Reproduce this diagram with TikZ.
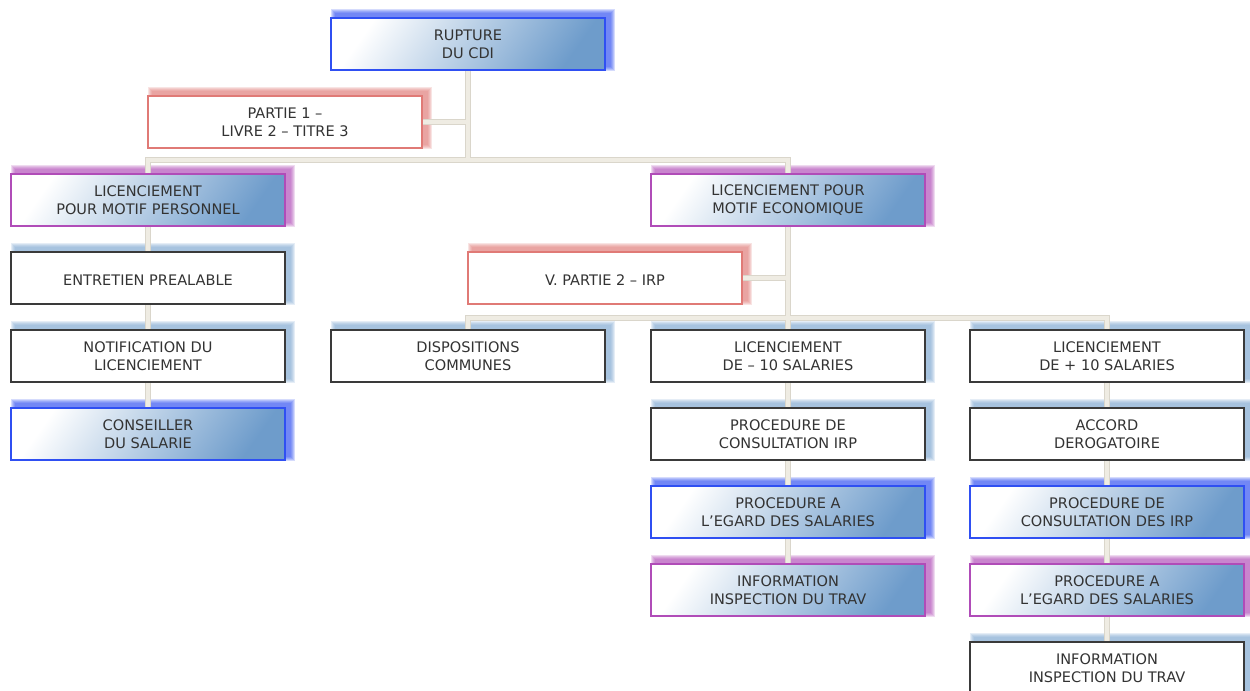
\documentclass[tikz,border=0pt]{standalone}
\usepackage{fontspec}
\setmainfont{DejaVu Sans}
\usetikzlibrary{calc,backgrounds}
\definecolor{cbleu}{HTML}{2F4FF2}
\definecolor{crouge}{HTML}{E07A76}
\definecolor{cviolet}{HTML}{B04CB8}
\definecolor{cgris}{HTML}{3A3A3A}
\definecolor{chalo}{HTML}{7FA7D2}
\definecolor{cdegrade}{HTML}{6E9CCB}
\definecolor{clien}{HTML}{EFECE3}
\definecolor{clienb}{HTML}{DAD6CB}
\definecolor{ctexte}{HTML}{333333}
\tikzset{
  boite/.style={draw=cgris,fill=white,line width=1.1pt,align=center,
                minimum width=205.5pt,minimum height=39pt,inner sep=2pt,
                execute at begin node={\rule{0pt}{11pt}},
                text=ctexte,font=\fontsize{10.9pt}{13.5pt}\selectfont},
  degrade/.style={left color=white,right color=cdegrade,shading angle=55},
  boiteb/.style={boite,draw=cbleu,degrade},
  boitev/.style={boite,draw=cviolet,degrade},
  boiter/.style={boite,draw=crouge},
  lien/.style={draw=clien,line width=2.4pt,preaction={draw=clienb,line width=3.8pt}},
}
\newcommand{\halo}[2]{%
  \foreach \r in {0,...,4}{%
    \fill[#2,opacity=0.2] ($(#1.south west)+(5-\r,-4+\r)$) rectangle ($(#1.north east)+(5+\r,-4-\r)$);}}
\begin{document}
\begin{tikzpicture}[x=0.75pt,y=-0.75pt]
\useasboundingbox (0,0) rectangle (1250,691);

\node[boiteb] (rup) at (468,44) {RUPTURE\\DU CDI};
\node[boiter] (p1) at (285,122) {PARTIE 1 –\\LIVRE 2 – TITRE 3};

\node[boitev] (lper) at (148,200) {LICENCIEMENT\\POUR MOTIF PERSONNEL};
\node[boite] (entr) at (148,278) {ENTRETIEN PREALABLE};
\node[boite] (notif) at (148,356) {NOTIFICATION DU\\LICENCIEMENT};
\node[boiteb] (cons) at (148,434) {CONSEILLER\\DU SALARIE};

\node[boitev] (leco) at (788,200) {LICENCIEMENT POUR\\MOTIF ECONOMIQUE};
\node[boiter] (p2) at (605,278) {V. PARTIE 2 – IRP};
\node[boite] (disp) at (468,356) {DISPOSITIONS\\COMMUNES};
\node[boite] (lmoins) at (788,356) {LICENCIEMENT\\DE – 10 SALARIES};
\node[boite] (lplus) at (1107,356) {LICENCIEMENT\\DE + 10 SALARIES};

\node[boite] (cirp) at (788,434) {PROCEDURE DE\\CONSULTATION IRP};
\node[boiteb] (sal1) at (788,512) {PROCEDURE A\\L’EGARD DES SALARIES};
\node[boitev] (insp1) at (788,590) {INFORMATION\\INSPECTION DU TRAV};

\node[boite] (acc) at (1107,434) {ACCORD\\DEROGATOIRE};
\node[boiteb] (cdirp) at (1107,512) {PROCEDURE DE\\CONSULTATION DES IRP};
\node[boitev] (sal2) at (1107,590) {PROCEDURE A\\L’EGARD DES SALARIES};
\node[boite] (insp2) at (1107,668) {INFORMATION\\INSPECTION DU TRAV};

\coordinate (j1) at (468,160);
\coordinate (j2) at (788,318);

\begin{scope}[on background layer]
\fill[white] (0,0) rectangle (1250,691);
\foreach \n in {rup,cons,sal1,cdirp}{\halo{\n}{cbleu}}
\foreach \n in {lper,leco,insp1,sal2}{\halo{\n}{cviolet}}
\foreach \n in {p1,p2}{\halo{\n}{crouge}}
\foreach \n in {entr,notif,disp,lmoins,lplus,cirp,acc,insp2}{\halo{\n}{chalo}}
\draw[lien] (rup.south) -- (j1) -| (lper.north) (j1) -| (leco.north)
  (p1.east) -- (p1.east -| j1)
  (lper.south) -- (entr.north) (entr.south) -- (notif.north) (notif.south) -- (cons.north)
  (leco.south) -- (j2) -| (disp.north) (j2) -| (lmoins.north) (j2) -| (lplus.north)
  (p2.east) -- (p2.east -| j2)
  (lmoins.south) -- (cirp.north) (cirp.south) -- (sal1.north) (sal1.south) -- (insp1.north)
  (lplus.south) -- (acc.north) (acc.south) -- (cdirp.north) (cdirp.south) -- (sal2.north)
  (sal2.south) -- (insp2.north);
\end{scope}

\end{tikzpicture}
\end{document}
